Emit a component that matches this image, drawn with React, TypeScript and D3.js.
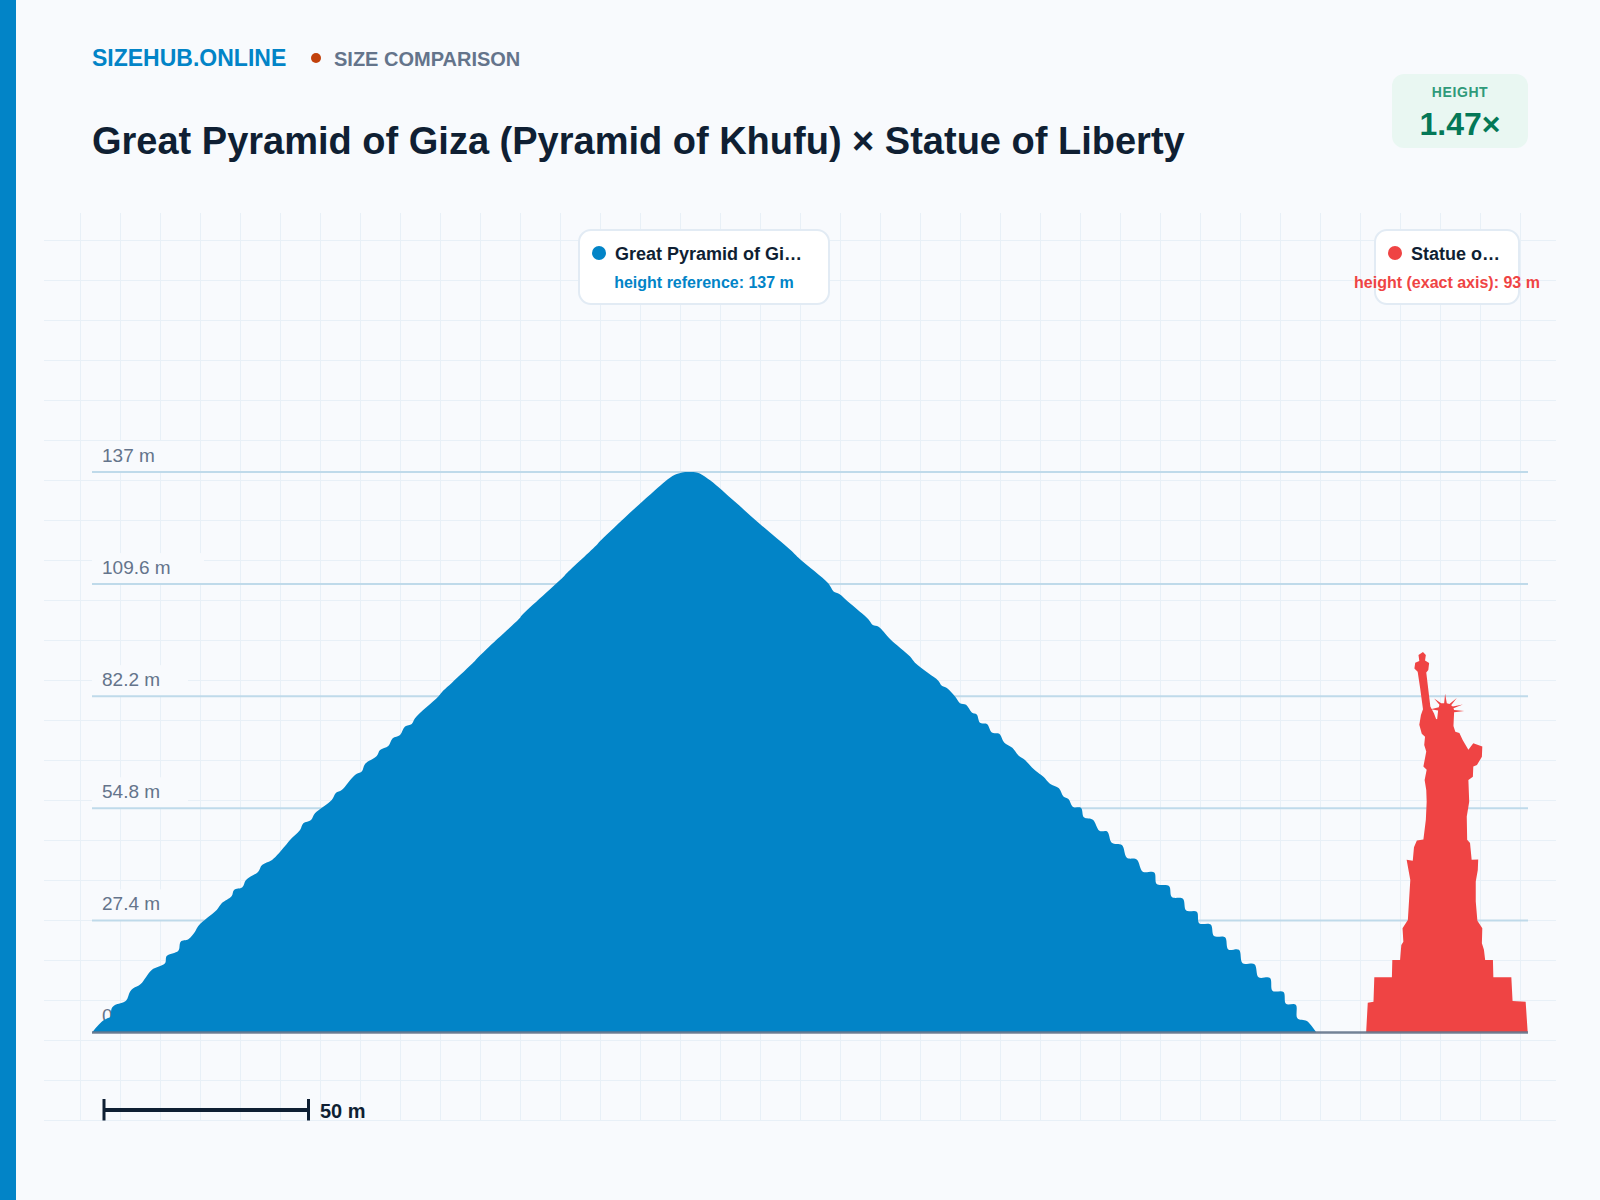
import React from "react";
import * as d3 from "d3";

const brand = "SIZEHUB.ONLINE";
const kicker = "SIZE COMPARISON";
const title = "Great Pyramid of Giza (Pyramid of Khufu) × Statue of Liberty";
const badgeLabel = "HEIGHT";
const badgeValue = "1.47×";

const referenceValues = [0, 27.4, 54.8, 82.2, 109.6, 137];
const referenceLabels = ["0", "27.4 m", "54.8 m", "82.2 m", "109.6 m", "137 m"];
const scaleBarMetres = 50;
const pyramidHeight = 137;
const statueHeight = 93;

const pyramidX = [
  0, 2.37, 3.74, 4.45, 4.82, 5.62, 8.31, 9.29, 10.1, 11.91, 14.6, 17.85, 18.26, 21.1, 21.69, 23.55, 25.18, 25.99, 28.04,
  30.49, 31.71, 34.16, 34.72, 36.75, 37.65, 40.59, 41.57, 44.01, 47.19, 48.41, 50.86, 51.67, 53.55, 54.52, 58.61,
  59.66, 61.05, 64.3, 65.94, 66.75, 69.61, 70.42, 72.44, 73.52, 75.31, 76.53, 78.17, 78.97, 84.67, 85.89, 87.95, 93.4, 93.9,
  96.5, 104.6, 105.1, 115.4, 115.9, 123.5, 124.0, 130.3, 137.7, 140.1, 142.5, 144.3, 146.2, 147.8, 148.7, 151.2, 157.2, 163.3,
  170.7, 173.1, 180.0, 181.3, 182.7, 185.3, 189.8, 190.9, 192.3, 195.1, 200.0, 201.2, 204.5, 206.9, 207.7, 209.0, 211.0, 212.2,
  213.7, 215.1, 216.3, 217.1, 218.8, 220.0, 221.8, 223.0, 225.0, 226.5, 228.1, 229.8, 231.4, 232.6, 234.2, 236.4,
  237.5, 238.7, 239.9, 241.8, 242.5, 244.7, 246.3, 248.2, 249.3, 251.8, 253.0, 255.4, 256.9, 259.7, 260.3, 263.3,
  264.0, 266.7, 267.5, 270.1, 270.7, 273.5, 274.3, 277.0, 277.8, 280.4, 281.3, 284.2, 285.2, 288.0, 288.6, 291.3,
  291.9, 294.3, 294.7, 297.0, 298.9, 299.3,
];
const pyramidH = [
  0, 2.64, 3.47, 3.79, 5.92, 6.72, 7.78, 9.98, 10.81, 11.86, 15.28, 16.92, 18.7, 20.0, 22.2, 22.79, 24.65, 26.04, 27.92,
  29.95, 31.59, 33.37, 34.84, 35.5, 37.29, 39.24, 40.95, 42.18, 45.6, 47.07, 49.51, 51.15, 51.96, 53.59, 56.85,
  58.63, 59.29, 62.96, 63.77, 65.65, 67.6, 69.07, 70.05, 71.93, 72.74, 74.77, 75.43, 76.82, 82.1, 83.57, 85.45, 90.6, 91.2,
  93.76, 101.3, 101.96, 111.5, 112.1, 119.3, 119.9, 125.9, 132.6, 134.7, 136.3, 136.9, 137.0, 136.9, 136.6, 134.9, 129.7, 124.3,
  118.0, 115.7, 109.8, 107.8, 107.2, 104.9, 101.0, 99.6, 99.2, 96.2, 91.9, 90.4, 87.8, 86.0, 84.8, 84.2, 82.1, 80.5,
  80.1, 78.2, 77.7, 75.7, 75.4, 73.3, 73.0, 70.9, 69.6, 67.7, 66.6, 64.8, 63.4, 62.5, 60.8, 59.7,
  57.7, 57.1, 55.1, 54.9, 52.6, 52.0, 49.3, 49.1, 46.4, 45.8, 42.7, 42.3, 39.3, 39.1, 36.3, 35.8,
  33.1, 32.7, 29.8, 29.5, 26.7, 26.4, 23.6, 23.3, 20.3, 20.2, 16.9, 16.7, 13.5, 13.3, 10.2, 9.9,
  7.0, 6.8, 3.5, 2.8, 0.6, 0,
];

const statueX = [
  311.5, 311.9, 313.3, 313.5, 317.8, 317.9, 319.8, 320.1, 320.6, 320.4, 321.7, 322.0, 322.3, 321.4, 322.9, 323.2,
  323.9, 325.5, 326.1, 326.3, 326.2, 325.8, 326.3, 325.5, 326.2, 325.7, 325.9, 325.1, 324.5, 324.9, 325.4, 324.7,
  324.1, 323.3, 323.5, 324.5, 324.3, 325.4, 326.1, 325.9, 326.9, 326.7, 326.2, 327.2, 328.1, 328.6, 328.86, 329.1,
  327.31, 329.26, 329.43, 328.12, 329.83, 330.57, 330.81, 331.22, 331.87, 333.67, 332.28, 332.69, 335.13, 332.85,
  333.01, 335.46, 333.01, 332.85, 333.3, 334.3, 335.1,
  336.5, 337.7, 339.9, 339.8, 338.6, 337.7, 337.6, 336.5, 336.7, 336.1, 336.2, 336.9, 337.3, 338.9, 338.8, 338.3,
  338.3, 338.7, 339.9, 339.8, 340.3, 340.6, 342.5, 342.6, 347.0, 347.3, 350.5, 351.0,
];
const statueH = [
  0, 7.29, 7.53, 13.5, 13.5, 17.7, 17.7, 21.4, 22.2, 25.5, 27.5, 32.4, 37.3, 42.2, 42.0, 45.3,
  46.9, 47.2, 52.0, 56.4, 59.3, 61.7, 64.2, 65.0, 68.7, 70.3, 72.3, 73.0, 75.2, 77.6, 79.0, 84.2,
  88.2, 89.0, 90.4, 90.8, 92.3, 93.0, 92.3, 90.9, 90.3, 88.6, 88.0, 79.7, 78.0, 76.6, 76.57, 78.7,
  79.0, 79.5, 80.08, 81.63, 80.49, 80.49, 82.77, 80.49, 80.32, 81.79, 80.0, 79.67, 80.16, 79.26,
  78.85, 78.61, 78.28, 74.94, 73.5, 73.2, 71.5,
  69.1, 70.7, 69.9, 67.4, 65.4, 65.0, 62.5, 61.7, 56.4, 52.8, 47.1, 46.3, 42.2, 42.3, 39.7, 36.9,
  32.0, 27.3, 25.5, 21.8, 20.2, 17.7, 17.7, 13.5, 13.5, 7.7, 7.5, 0,
];

const W = 1600;
const H = 1200;
const FONT = '"Liberation Sans", Arial, sans-serif';
const BLUE = "#0284c7";
const RED = "#ef4444";
const INK = "#0f1f33";
const SLATE = "#64748b";
const BG = "#f8fafd";
const GRID = "#e8f0f7";
const BOX = "#e2ebf4";

const x = d3.scaleLinear().domain([0, 351]).range([92, 1527.7]);
const y = d3.scaleLinear().domain([0, 137]).range([1032.5, 472]);

const gridX = d3.range(80, 1521, 40);
const gridY = d3.range(240, 1121, 40);

const pyramidPath = d3
  .line<number>()
  .x((d) => x(pyramidX[d]))
  .y((d) => y(pyramidH[d]))
  .curve(d3.curveCatmullRom.alpha(0.5))(d3.range(pyramidX.length)) as string;

const statuePath = d3
  .line<number>()
  .x((d) => x(statueX[d]))
  .y((d) => y(statueH[d]))(d3.range(statueX.length)) as string;

function Callout(props: {
  left: number;
  right: number;
  color: string;
  name: string;
  detail: string;
  detailX: number;
}) {
  const { left, right, color, name, detail, detailX } = props;
  return (
    <g fontFamily={FONT}>
      <rect x={left} y={230} width={right - left} height={74} rx={12} fill="#ffffff" stroke={BOX} strokeWidth={2} />
      <circle cx={left + 20} cy={253} r={7} fill={color} />
      <text x={left + 36} y={260} fontSize={18} fontWeight={700} fill={INK}>
        {name}
      </text>
      <text x={detailX} y={288} fontSize={16} fontWeight={700} fill={color} textAnchor="middle">
        {detail}
      </text>
    </g>
  );
}

export default function App() {
  const scaleStart = 104;
  const scaleEnd = scaleStart + (x(scaleBarMetres) - x(0));
  return (
    <svg
      width={W}
      height={H}
      viewBox={`0 0 ${W} ${H}`}
      style={{ position: "absolute", left: 0, top: 0, display: "block", background: BG }}
    >
      <rect x={0} y={0} width={W} height={H} fill={BG} />
      <rect x={0} y={0} width={16} height={H} fill={BLUE} />

      <g fontFamily={FONT}>
        <text x={92} y={66} fontSize={23} fontWeight={700} fill={BLUE}>
          {brand}
        </text>
        <circle cx={316} cy={58} r={5} fill="#c2410c" />
        <text x={334} y={66} fontSize={20} fontWeight={700} fill={SLATE}>
          {kicker}
        </text>
        <text x={92} y={154} fontSize={38} fontWeight={700} fill={INK}>
          {title}
        </text>
        <rect x={1392} y={74} width={136} height={74} rx={12} fill="#e9f7f2" />
        <text x={1460} y={97} fontSize={14} fontWeight={700} fill="#2f9a7a" textAnchor="middle" letterSpacing={0.6}>
          {badgeLabel}
        </text>
        <text x={1460} y={135} fontSize={32} fontWeight={700} fill="#047857" textAnchor="middle">
          {badgeValue}
        </text>
      </g>

      <g stroke={GRID} strokeWidth={1}>
        {gridX.map((gx) => (
          <line key={`v${gx}`} x1={gx + 0.5} x2={gx + 0.5} y1={213} y2={1120} />
        ))}
        {gridY.map((gy) => (
          <line key={`h${gy}`} x1={44} x2={1556} y1={gy + 0.5} y2={gy + 0.5} />
        ))}
      </g>

      <g fontFamily={FONT}>
        {referenceValues.map((v, i) => (
          <g key={v}>
            <rect
              x={92}
              y={y(v) - 31}
              width={referenceLabels[i].length * 16}
              height={31}
              fill={BG}
            />
            {v > 0 && (
              <line x1={92} x2={1528} y1={y(v)} y2={y(v)} stroke="#bfdaea" strokeWidth={2} />
            )}
            <text x={102} y={y(v) - 10.5} fontSize={19} fill={SLATE}>
              {referenceLabels[i]}
            </text>
          </g>
        ))}
      </g>

      <path d={pyramidPath} fill={BLUE} />
      <path d={statuePath} fill={RED} />
      <line x1={92} x2={1528} y1={y(0)} y2={y(0)} stroke={SLATE} strokeWidth={2.4} strokeOpacity={0.9} />

      <Callout
        left={579}
        right={829}
        color={BLUE}
        name="Great Pyramid of Gi…"
        detail={`height reference: ${pyramidHeight} m`}
        detailX={704}
      />
      <Callout
        left={1375}
        right={1519}
        color={RED}
        name="Statue o…"
        detail={`height (exact axis): ${statueHeight} m`}
        detailX={1447}
      />

      <g stroke={INK}>
        <line x1={scaleStart} x2={scaleEnd} y1={1110} y2={1110} strokeWidth={4} />
        <line x1={scaleStart} x2={scaleStart} y1={1099} y2={1120.5} strokeWidth={3} />
        <line x1={scaleEnd} x2={scaleEnd} y1={1099} y2={1120.5} strokeWidth={3} />
      </g>
      <text x={320} y={1118} fontFamily={FONT} fontSize={20} fontWeight={700} fill={INK}>
        {`${scaleBarMetres} m`}
      </text>
    </svg>
  );
}
